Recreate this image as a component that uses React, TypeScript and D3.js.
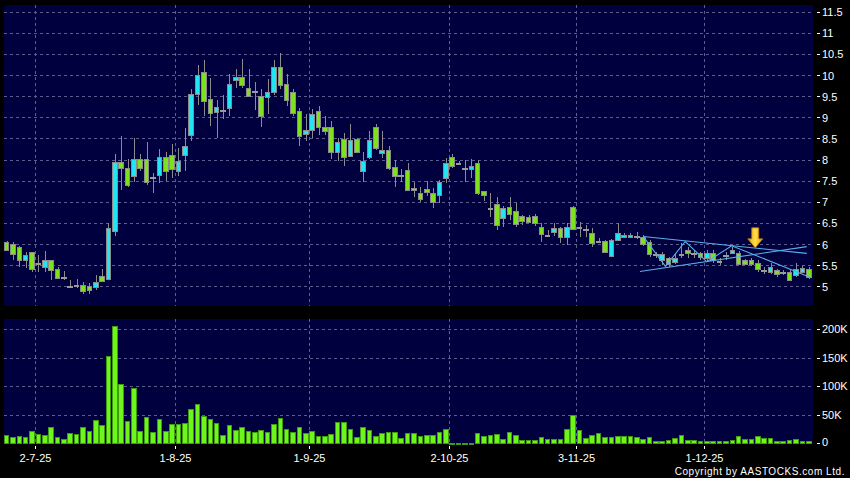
import React from "react";
import * as d3 from "d3";

// ---------- DATA ----------
const open = [6.06,6.00,5.92,5.63,5.82,5.54,5.46,5.63,5.40,5.23,5.00,5.02,5.04,5.01,4.99,5.25,5.18,6.31,7.94,7.80,7.60,8.01,8.01,7.58,7.63,8.06,8.11,7.72,8.10,8.57,9.56,10.08,9.44,9.12,9.17,9.23,9.88,9.96,9.70,9.62,9.50,9.49,9.61,10.20,9.80,9.61,9.14,8.60,8.71,9.14,8.77,8.77,8.19,8.49,8.09,8.49,7.72,8.06,8.77,8.16,8.23,7.82,7.64,7.76,7.28,7.20,7.30,7.22,7.16,7.56,8.07,7.92,7.80,7.78,7.92,7.25,6.85,6.95,6.61,6.87,6.78,6.67,6.65,6.67,6.41,6.22,6.29,6.37,6.16,6.87,6.40,6.35,6.27,6.08,6.08,5.71,6.09,6.17,6.16,6.20,6.16,6.05,5.76,5.63,5.66,5.58,5.76,5.87,5.78,5.78,5.68,5.79,5.60,5.74,5.79,5.79,5.62,5.62,5.55,5.38,5.34,5.38,5.33,5.33,5.26,5.34,5.42];
const high = [6.07,6.05,5.95,5.81,5.82,5.74,5.84,5.63,5.45,5.36,5.16,5.18,5.10,5.08,5.26,5.42,6.51,8.14,8.55,8.01,8.51,8.12,8.42,7.68,8.26,8.19,8.38,8.27,8.75,9.66,10.23,10.36,9.92,9.42,9.54,10.02,10.14,10.39,10.14,9.84,9.66,9.90,10.35,10.52,10.02,9.66,9.23,9.07,9.19,9.26,9.03,8.91,8.51,8.63,8.83,8.51,8.19,8.67,8.83,8.67,8.31,7.98,7.78,7.92,7.46,7.35,7.50,7.32,7.52,8.04,8.14,7.97,8.00,8.01,8.00,7.26,7.20,7.12,6.90,7.11,6.98,6.69,6.69,6.71,6.51,6.33,6.49,6.40,6.49,6.90,6.53,6.45,6.37,6.14,6.09,6.12,6.49,6.26,6.26,6.29,6.21,6.09,5.82,5.82,5.70,5.79,6.03,5.93,5.86,5.82,5.86,5.87,5.68,5.82,5.93,5.84,5.64,5.66,5.62,5.46,5.54,5.42,5.38,5.38,5.54,5.48,5.45];
const low = [5.86,5.63,5.46,5.44,5.34,5.34,5.34,5.16,5.17,5.14,4.98,4.95,4.81,4.81,4.92,5.10,5.14,6.19,7.28,7.36,7.46,7.74,7.40,7.22,7.44,7.50,7.56,7.60,7.74,8.43,9.30,9.04,8.80,8.51,8.95,9.04,9.70,9.70,9.49,9.17,8.76,9.07,9.54,9.66,9.26,9.03,8.31,8.43,8.51,8.59,8.59,8.01,7.96,7.84,8.06,8.16,7.48,8.01,8.23,8.04,7.76,7.35,7.48,7.27,7.12,7.00,7.14,6.85,6.97,7.44,7.80,7.88,7.48,7.56,7.16,7.03,6.63,6.33,6.40,6.57,6.40,6.45,6.49,6.43,6.05,6.19,6.19,6.02,5.97,6.33,6.17,6.17,5.93,6.02,5.78,5.69,6.08,6.16,6.14,6.13,5.95,5.70,5.66,5.50,5.46,5.52,5.68,5.68,5.66,5.62,5.58,5.55,5.50,5.62,5.78,5.50,5.50,5.49,5.34,5.30,5.30,5.22,5.26,5.13,5.22,5.33,5.18];
const close = [5.87,5.76,5.62,5.75,5.40,5.54,5.63,5.38,5.20,5.23,5.00,5.02,4.90,4.92,5.11,5.12,6.37,7.94,7.80,7.39,8.01,7.80,7.46,7.58,8.06,7.72,7.78,7.96,8.33,9.56,10.01,9.38,9.11,9.25,9.17,9.78,9.96,9.76,9.50,9.62,9.03,9.61,10.20,9.76,9.41,9.11,8.55,8.71,9.07,8.77,8.67,8.19,8.42,8.06,8.47,8.19,7.97,8.47,8.27,8.23,7.80,7.62,7.64,7.28,7.32,7.06,7.24,7.00,7.46,7.93,7.85,7.92,7.80,7.84,7.22,7.15,6.85,6.45,6.85,6.71,6.47,6.55,6.53,6.49,6.24,6.22,6.37,6.17,6.40,6.35,6.40,6.35,6.02,6.08,5.82,6.09,6.25,6.22,6.22,6.20,6.00,5.76,5.76,5.76,5.52,5.68,5.76,5.78,5.78,5.70,5.78,5.63,5.60,5.74,5.87,5.52,5.52,5.52,5.40,5.38,5.46,5.29,5.33,5.16,5.42,5.44,5.21];
// volume in thousands of shares
const volumeK = [14.8,11.9,13.1,11.9,22.3,16.6,14.3,29.3,10.8,8.4,18.8,16.6,28.3,22.3,41,32.3,154,205,104,39.8,97.3,22.3,46.7,20,42.7,22.3,33.5,33.5,35.2,59.6,69.4,48,42.7,36.3,
  15.3,32.8,23.5,28.8,21.8,20,23.5,20.6,34,44,25.8,19.5,29.3,17.8,21.3,12.6,13.1,17.1,37.5,37.5,24.8,11.3,28.3,23.5,13.6,18.8,20,20,9.6,17.8,18.3,13.6,14.8,14.8,19.5,25.3,1.4,1.4,1.4,1.7,17.8,13.6,14.8,16,8.4,20,
  14.8,5.6,5.6,5.6,11.9,7.3,7.8,8.4,24.8,49.2,23.5,9,15.3,18.8,11.9,10.8,13.6,12.6,13.1,10.8,7.8,11.9,4.9,3.8,6.6,10.1,14.3,6.6,6.1,3.8,4.4,3.8,3.8,4.9,5.6,12.6,7.3,7.3,13.1,9,9,4.4,3.8,6.1,7.8,4.4,4.4];

const monthTickIndex = [5, 27, 48, 70, 90, 110];
const monthTickLabels = ["2-7-25", "1-8-25", "1-9-25", "2-10-25", "3-11-25", "1-12-25"];
const priceTicks = [5, 5.5, 6, 6.5, 7, 7.5, 8, 8.5, 9, 9.5, 10, 10.5, 11, 11.5];
const volumeTicks = [0, 50, 100, 150, 200];
const volumeTickLabels = ["0", "50K", "100K", "150K", "200K"];

// drawn annotation lines: [candle index, price]
const trendLines: [number, number][][] = [
  [[100, 6.18], [125.7, 5.78]],
  [[99.5, 5.35], [125.7, 5.94]],
  [[100, 6.18], [103.5, 5.47], [106.6, 6.06], [110, 5.58], [113.9, 5.96], [126.3, 5.21]],
];
const arrowAt: [number, number] = [117.6, 5.91];

export default function App() {
  const W = 850, H = 478;
  const left = 4, right = 813;
  const pTop = 5, pBot = 306, vTop = 319, vBot = 444;
  const n = open.length;
  const idx = d3.range(n);
  const x = d3.scaleBand<number>().domain(idx).range([3.8, 811.5]).paddingInner(0.12);
  const cx = (i: number) => (x(i) as number) + x.bandwidth() / 2;
  const xi = d3.scaleLinear().domain([0, n - 1]).range([cx(0), cx(n - 1)]);
  const yP = d3.scaleLinear().domain([5, 11.5]).range([286.3, 11.7]);
  const yV = d3.scaleLinear().domain([0, 200]).range([443.5, 329.3]);
  const gridX = (k: number) => Math.round((cx(k - 1) + cx(k)) / 2) + 0.5;
  const barL = (i: number) => Math.round(x(i) as number);
  const barR = (i: number) => Math.round((x(i) as number) + x.bandwidth());

  const navy = "#00003e";
  const gridColor = "#5c5c8e";
  const cyan = "#22e4f2";
  const green = "#7de21c";
  const edge = "#8c8c8c";
  const font = "Arial, 'Liberation Sans', sans-serif";

  const line = d3.line<[number, number]>().x((d) => xi(d[0])).y((d) => yP(d[1]));

  const [ax, ap] = arrowAt;
  const axp = xi(ax), ayp = yP(ap);

  return (
    <svg width={W} height={H} style={{ display: "block", background: "#000" }}>
      <style>{`body{margin:0;background:#000}`}</style>
      <rect x={0} y={0} width={W} height={H} fill="#000" />
      {/* panels */}
      <rect x={left} y={pTop} width={right - left} height={pBot - pTop} fill={navy} />
      <rect x={left} y={vTop} width={right - left} height={vBot - vTop} fill={navy} />

      {/* grid */}
      <g stroke={gridColor} strokeWidth={1} strokeDasharray="3,3" shapeRendering="crispEdges">
        {priceTicks.map((t) => (
          <line key={"ph" + t} x1={left} x2={right} y1={Math.round(yP(t)) + 0.5} y2={Math.round(yP(t)) + 0.5} />
        ))}
        {monthTickIndex.map((k) => (
          <line key={"pv" + k} x1={gridX(k)} x2={gridX(k)} y1={pTop} y2={pBot} />
        ))}
        {volumeTicks.slice(1).map((t) => (
          <line key={"vh" + t} x1={left} x2={right} y1={Math.round(yV(t)) + 0.5} y2={Math.round(yV(t)) + 0.5} />
        ))}
        {monthTickIndex.map((k) => (
          <line key={"vv" + k} x1={gridX(k)} x2={gridX(k)} y1={vTop} y2={vBot} />
        ))}
      </g>

      {/* candles */}
      <g>
        {idx.map((i) => {
          const o = open[i], c = close[i], h = high[i], l = low[i];
          const xc = Math.round(cx(i)) + 0.5;
          const bl = barL(i), br = barR(i);
          const top = Math.round(yP(Math.max(o, c))) + 0.5;
          const bot = Math.round(yP(Math.min(o, c))) + 0.5;
          const wick = (
            <line x1={xc} x2={xc} y1={yP(h)} y2={yP(l)} stroke={edge} strokeWidth={1} shapeRendering="crispEdges" />
          );
          if (o === c || bot - top < 1) {
            return (
              <g key={i}>
                {wick}
                <line x1={bl} x2={br} y1={top} y2={top} stroke="#9a9a9a" strokeWidth={2} shapeRendering="crispEdges" />
              </g>
            );
          }
          return (
            <g key={i}>
              {wick}
              <rect x={bl + 0.5} y={top} width={br - bl - 1} height={bot - top} fill={c > o ? cyan : green} stroke={edge} strokeWidth={1} shapeRendering="crispEdges" />
            </g>
          );
        })}
      </g>

      {/* trend lines */}
      <g fill="none" stroke="#5aaee8" strokeWidth={1.1}>
        {trendLines.map((pts, k) => (
          <path key={k} d={line(pts) as string} />
        ))}
      </g>

      {/* arrow */}
      <defs>
        <linearGradient id="arrowGrad" x1="0" x2="1" y1="0" y2="0">
          <stop offset="0" stopColor="#e89a10" />
          <stop offset="0.5" stopColor="#ffe04a" />
          <stop offset="1" stopColor="#e89a10" />
        </linearGradient>
      </defs>
      <path
        d={`M${axp - 3.5},${ayp - 20} L${axp + 3.5},${ayp - 20} L${axp + 3.5},${ayp - 9} L${axp + 7.5},${ayp - 9} L${axp},${ayp} L${axp - 7.5},${ayp - 9} L${axp - 3.5},${ayp - 9} Z`}
        fill="url(#arrowGrad)"
        stroke="#c07a00"
        strokeWidth={0.8}
      />

      {/* volume bars */}
      <g shapeRendering="crispEdges">
        {idx.map((i) => {
          const bl = barL(i), br = barR(i);
          const top = Math.round(yV(volumeK[i])) + 0.5;
          const base = Math.round(yV(0)) - 0.5;
          return (
            <rect key={i} x={bl + 0.5} y={top} width={br - bl - 1} height={Math.max(0.5, base - top)} fill="#6ef51c" stroke="#3e9a12" strokeWidth={1} />
          );
        })}
      </g>

      {/* price / volume axis */}
      <g fontFamily={font} fontSize={11} fill="#fff">
        {priceTicks.map((t) => (
          <g key={"pt" + t}>
            <line x1={817} x2={820} y1={Math.round(yP(t)) + 0.5} y2={Math.round(yP(t)) + 0.5} stroke="#fff" shapeRendering="crispEdges" />
            <text x={822} y={yP(t) + 4.5}>{String(t)}</text>
          </g>
        ))}
        {volumeTicks.map((t, k) => (
          <g key={"vt" + t}>
            <line x1={817} x2={820} y1={Math.round(yV(t)) + 0.5 - (t === 0 ? 1 : 0)} y2={Math.round(yV(t)) + 0.5 - (t === 0 ? 1 : 0)} stroke="#fff" shapeRendering="crispEdges" />
            <text x={822} y={yV(t) + 4 - (t === 0 ? 1.5 : 0)}>{volumeTickLabels[k]}</text>
          </g>
        ))}
      </g>

      {/* date axis */}
      <g fontFamily={font} fontSize={11} fill="#fff">
        {monthTickIndex.map((k, j) => (
          <g key={"dt" + k}>
            <line x1={gridX(k)} x2={gridX(k)} y1={446} y2={449} stroke="#fff" shapeRendering="crispEdges" />
            <text x={gridX(k)} y={462} textAnchor="middle">{monthTickLabels[j]}</text>
          </g>
        ))}
      </g>

      <text x={845} y={475} textAnchor="end" fontFamily={font} fontSize={10} fill="#fff" letterSpacing={0.55}>
        Copyright by AASTOCKS.com Ltd.
      </text>
    </svg>
  );
}
